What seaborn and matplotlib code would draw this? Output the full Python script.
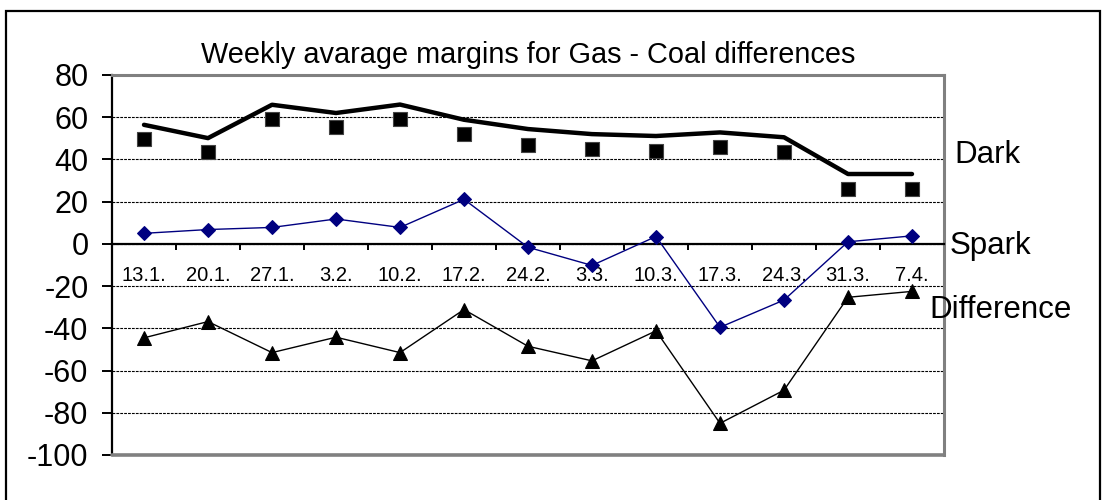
import numpy as np
import pandas as pd
import matplotlib
matplotlib.use("Agg")
import matplotlib.pyplot as plt
from matplotlib.patches import Rectangle
from matplotlib.transforms import blended_transform_factory
import seaborn as sns

# Weekly values
weeks = ["13.1.", "20.1.", "27.1.", "3.2.", "10.2.", "17.2.", "24.2.",
         "3.3.", "10.3.", "17.3.", "24.3.", "31.3.", "7.4."]
dark_line = [56.4, 50.1, 65.9, 62.0, 66.0, 58.8, 54.4, 52.0, 51.1, 52.8, 50.5, 33.1, 33.1]
dark_marks = [49.6, 43.3, 59.1, 55.6, 59.1, 52.0, 46.9, 45.0, 44.2, 46.1, 43.3, 26.2, 26.2]
spark = [5.0, 6.8, 7.8, 11.8, 7.8, 21.1, -1.6, -10.2, 3.5, -39.5, -26.6, 1.0, 3.8]
difference = [-44.5, -36.8, -51.5, -44.2, -51.5, -31.1, -48.5, -55.4, -41.2, -85.0, -69.3, -25.3, -22.5]

y_ticks = [80, 60, 40, 20, 0, -20, -40, -60, -80, -100]
series_names = ["Dark", "Spark", "Difference"]
title = "Weekly avarage margins for Gas - Coal differences"

df = pd.DataFrame({"week": weeks, "dark_line": dark_line, "dark_marks": dark_marks,
                   "spark": spark, "difference": difference})

sns.set_style("white")
plt.rcParams["font.family"] = ["Liberation Sans", "DejaVu Sans"]
plt.rcParams["axes.unicode_minus"] = False
plt.rcParams["text.color"] = "black"
plt.rcParams["xtick.color"] = "black"
plt.rcParams["ytick.color"] = "black"

fig = plt.figure(figsize=(11.02, 5.0), dpi=100)
ax = fig.add_axes([112 / 1102, 1 - 455 / 500, 832 / 1102, 380 / 500])

# outer frame
fig.patches.append(Rectangle((6 / 1102, -0.02), 1094 / 1102, 1.02 - 11 / 500,
                             transform=fig.transFigure, fill=False,
                             edgecolor="black", linewidth=1.6, zorder=0))

sns.lineplot(data=df, x="week", y="dark_line", sort=False, color="black",
             linewidth=3.2, ax=ax, zorder=4)
sns.scatterplot(data=df, x="week", y="dark_marks", marker="s", s=115,
                color="black", edgecolor="#444444", linewidth=0.8, ax=ax, zorder=5)
sns.lineplot(data=df, x="week", y="spark", sort=False, color="#000080",
             linewidth=1.0, marker="D", markersize=7, markeredgecolor="#000080",
             ax=ax, zorder=5)
sns.lineplot(data=df, x="week", y="difference", sort=False, color="black",
             linewidth=1.0, marker="^", markersize=10.5, markeredgecolor="black",
             ax=ax, zorder=5)

ax.set_xlim(-0.5, len(weeks) - 0.5)
ax.set_ylim(-100, 80)
ax.set_yticks(y_ticks)
ax.set_xlabel("")
ax.set_ylabel("")

# dashed gridlines
ax.yaxis.grid(True, linestyle=(0, (2.5, 1)), color="black", linewidth=0.8)
ax.xaxis.grid(False)
ax.set_axisbelow(True)

# x axis sits at zero
ax.spines["bottom"].set_position(("data", 0))
ax.spines["bottom"].set_color("black")
ax.spines["bottom"].set_linewidth(1.6)
ax.spines["left"].set_color("black")
ax.spines["left"].set_linewidth(1.6)
for side in ["top", "right"]:
    ax.spines[side].set_color("#808080")
    ax.spines[side].set_linewidth(2.2)
ax.axhline(-100, color="#808080", linewidth=2.6, clip_on=False, zorder=6)

ax.set_xticks(np.arange(-0.5, len(weeks), 1), minor=True)
ax.tick_params(axis="x", which="major", length=0, pad=16, labelsize=14.5)
ax.tick_params(axis="x", which="minor", length=4.5, width=1.4, direction="out",
               color="black", bottom=True)
ax.tick_params(axis="y", which="major", length=7, width=1.4, direction="out",
               color="black", pad=10, labelsize=22, left=True)

ax.set_title(title, fontsize=20.8, pad=8.5)

# series names at the right
tr = blended_transform_factory(fig.transFigure, ax.transData)
for lab, xpix, yv in zip(series_names, [954, 950, 929], [38.2, -4.6, -35.3]):
    ax.text(xpix / 1102, yv, lab, fontsize=22.5, ha="left", va="baseline",
            transform=tr, clip_on=False)

fig.savefig("out.png", dpi=100)
